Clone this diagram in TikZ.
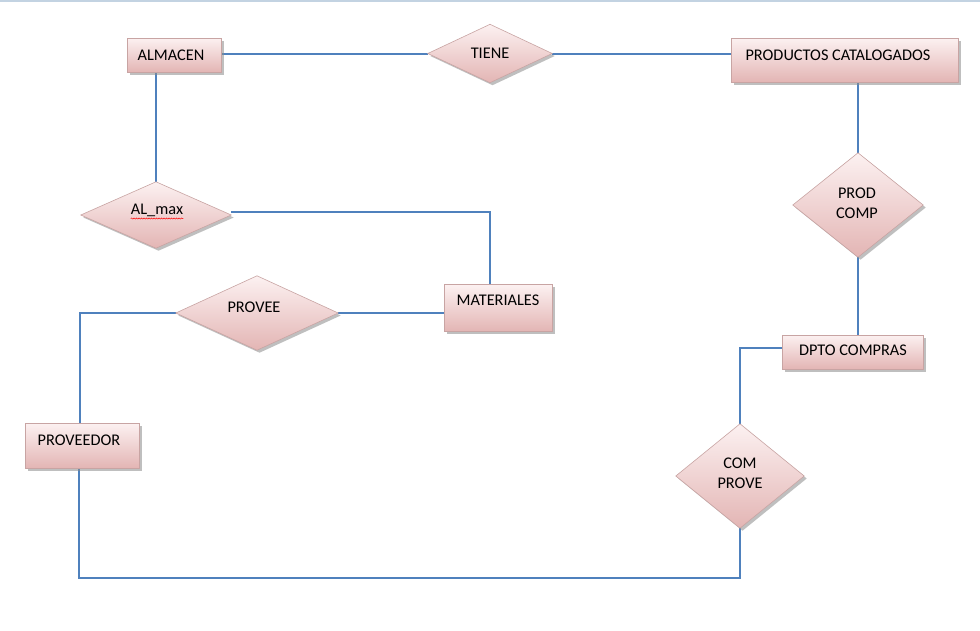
\documentclass[tikz,border=0pt]{standalone}
\usepackage{fontspec}
\setmainfont{Carlito}
\usetikzlibrary{shadows,calc,decorations.pathmorphing}
\definecolor{conn}{HTML}{4F81BD}
\definecolor{ftop}{HTML}{FCF1F1}
\definecolor{fbot}{HTML}{E3B5B4}
\definecolor{bord}{HTML}{C8A4A3}
\definecolor{topline}{HTML}{C3D3E2}
\pgfdeclarelayer{bg}
\pgfdeclarelayer{paper}
\pgfsetlayers{paper,bg,main}
\tikzset{
  shp/.style={top color=ftop, bottom color=fbot, draw=bord, line width=0.6pt,
    drop shadow={shadow xshift=2.5pt, shadow yshift=-2.5pt, fill=black!45, opacity=0.55}},
  ent/.style={shp, rectangle, inner sep=0pt},
  relbox/.style={rectangle, inner sep=0pt, draw=none},
  lbl/.style={font=\fontsize{16.3}{20}\selectfont, inner sep=0pt, align=center, text=black},
  link/.style={conn, line width=2pt},
}
\newcommand{\rel}[1]{\path[shp] (#1.west) -- (#1.north) -- (#1.east) -- (#1.south) -- cycle;}
\begin{document}
\begin{tikzpicture}[x=1pt,y=1pt]
\useasboundingbox (0,0) rectangle (980,-630);
\begin{pgfonlayer}{paper}
\fill[white] (0,0) rectangle (980,-630);
\draw[topline, line width=2pt] (0,-1) -- (980,-1);
\end{pgfonlayer}

% relation placeholders (diamonds)
\node[relbox, minimum width=124pt, minimum height=58pt] (tiene) at (490,-53.5) {};
\node[relbox, minimum width=150pt, minimum height=66pt] (almax) at (156,-215) {};
\node[relbox, minimum width=162pt, minimum height=74pt] (provee) at (257,-313) {};
\node[relbox, minimum width=130pt, minimum height=104pt] (prodcomp) at (858,-205) {};
\node[relbox, minimum width=128pt, minimum height=104pt] (comprove) at (740,-476) {};

% diamonds
\rel{tiene}
\rel{almax}
\rel{provee}
\rel{prodcomp}
\rel{comprove}

% entity boxes
\node[ent, minimum width=94pt, minimum height=34pt] (alm) at (174,-55) {};
\node[ent, minimum width=227pt, minimum height=44pt] (prod) at (844.5,-60) {};
\node[ent, minimum width=108pt, minimum height=47pt] (mat) at (498,-308) {};
\node[ent, minimum width=114pt, minimum height=45pt] (prov) at (82,-445.5) {};
\node[ent, minimum width=141pt, minimum height=34pt] (dpto) at (852.5,-352) {};

% bend coordinates
\coordinate (dptol) at ($(dpto.west)+(0,4)$);
\coordinate (cpk) at (740,-348);
\coordinate (cb1) at (740,-578);
\coordinate (cb2) at (79,-578);
\coordinate (provbot) at (79,-468);
\coordinate (provtop) at (80,-423);
\coordinate (pk) at (80,-313);
\coordinate (mattop) at (490,-285);
\coordinate (mk) at (490,-212);
\coordinate (almaxr) at (231,-212);

% connectors (behind the shapes)
\begin{pgfonlayer}{bg}
\draw[link] (tiene.west -| alm.east) -- (tiene.west);
\draw[link] (tiene.east) -- (tiene.east -| prod.west);
\draw[link] (prodcomp.north |- prod.south) -- (prodcomp.north);
\draw[link] (prodcomp.south) -- (prodcomp.south |- dpto.north);
\draw[link] (dptol) -- (cpk) -- (comprove.north);
\draw[link] (comprove.south) -- (cb1) -- (cb2) -- (provbot);
\draw[link] (provtop) -- (pk) -- (provee.west);
\draw[link] (provee.east) -- (provee.east -| mat.west);
\draw[link] (mattop) -- (mk) -- (almaxr);
\draw[link] (almax.north |- alm.south) -- (almax.north);
\end{pgfonlayer}

% labels
\node[lbl] (almT) at (171,-55) {ALMACEN};
\node[lbl] (prodT) at (838,-55) {PRODUCTOS CATALOGADOS};
\node[lbl] (matT) at (498,-300) {MATERIALES};
\node[lbl] (provT) at (79,-440) {PROVEEDOR};
\node[lbl] (dptoT) at (853,-350) {DPTO COMPRAS};
\node[lbl] (tieneT) at (490,-53) {TIENE};
\node[lbl] (almaxT) at (157,-210) {AL\_max};
\node[lbl] (proveeT) at (254,-307) {PROVEE};
\node[lbl] (prodcompT) at (857,-203) {PROD\\COMP};
\node[lbl] (comproveT) at (740,-473) {COM\\PROVE};
\draw[red, line width=0.5pt, decorate, decoration={snake, segment length=2.5pt, amplitude=0.6pt}]
  ($(almaxT.south west)+(0,-2)$) -- ($(almaxT.south east)+(0,-2)$);
\end{tikzpicture}
\end{document}
